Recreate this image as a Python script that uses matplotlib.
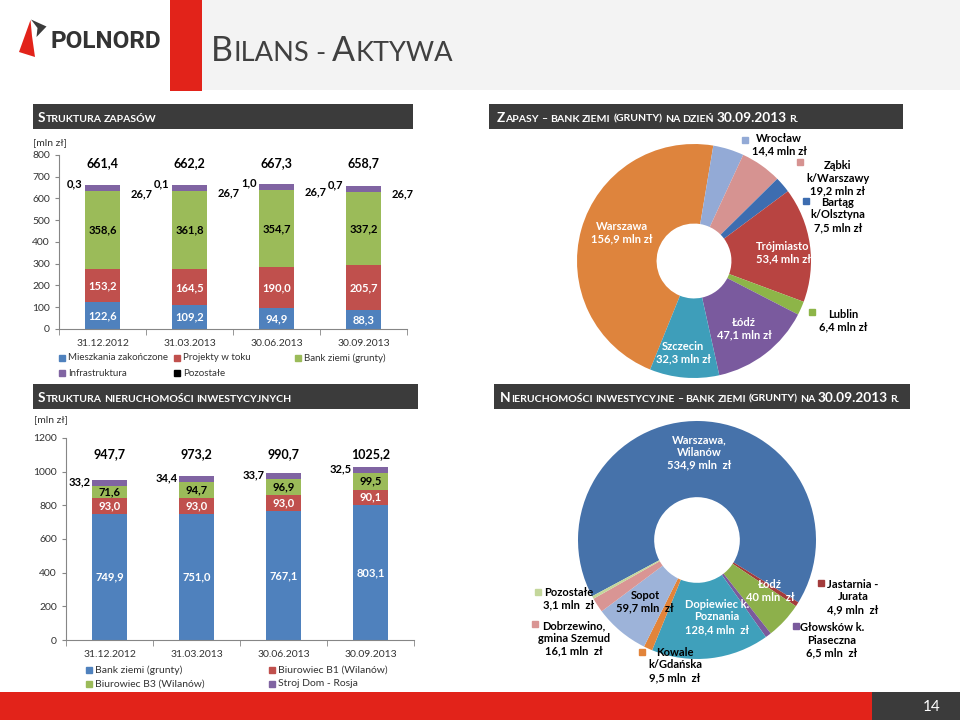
"""Slide 14 - Bilans - Aktywa (Polnord)."""

import numpy as np
import matplotlib
matplotlib.use("Agg")
import matplotlib.pyplot as plt
from matplotlib.patches import Rectangle, Polygon
from matplotlib.offsetbox import TextArea, HPacker, AnnotationBbox

W, H = 960, 720
FONT = "Lato"
plt.rcParams["font.family"] = [FONT, "DejaVu Sans"]

# --- data: struktura zapasow ---
dates = ["31.12.2012", "31.03.2013", "30.06.2013", "30.09.2013"]
zap_names = ["Mieszkania zakończone", "Projekty w toku", "Bank ziemi (grunty)", "Infrastruktura", "Pozostałe"]
zap_mieszkania = [122.6, 109.2, 94.9, 88.3]
zap_projekty = [153.2, 164.5, 190.0, 205.7]
zap_bank = [358.6, 361.8, 354.7, 337.2]
zap_infra = [26.7, 26.7, 26.7, 26.7]
zap_pozostale = [0.3, 0.1, 1.0, 0.7]
zap_totals = [661.4, 662.2, 667.3, 658.7]

# --- data: nieruchomosci inwestycyjne ---
inw_names = ["Bank ziemi (grunty)", "Biurowiec B1 (Wilanów)", "Biurowiec B3 (Wilanów)", "Stroj Dom - Rosja"]
inw_bank = [749.9, 751.0, 767.1, 803.1]
inw_b1 = [93.0, 93.0, 93.0, 90.1]
inw_b3 = [71.6, 94.7, 96.9, 99.5]
inw_stroj = [33.2, 34.4, 33.7, 32.5]
inw_totals = [947.7, 973.2, 990.7, 1025.2]

# --- data: bank ziemi (zapasy) 30.09.2013 ---
pz_names = ["Warszawa", "Wrocław", "Ząbki\nk/Warszawy", "Bartąg\nk/Olsztyna", "Trójmiasto", "Lublin", "Łódź", "Szczecin"]
pz_values = [156.9, 14.4, 19.2, 7.5, 53.4, 6.4, 47.1, 32.3]

# --- data: bank ziemi (nieruchomosci inwestycyjne) 30.09.2013 ---
pi_names = ["Warszawa,\nWilanów", "Jastarnia -\nJurata", "Łódź", "Głowsków k.\nPiaseczna", "Dopiewiec k.\nPoznania",
            "Kowale\nk/Gdańska", "Sopot", "Dobrzewino,\ngmina Szemud", "Pozostałe"]
pi_values = [534.9, 4.9, 40, 6.5, 128.4, 9.5, 59.7, 16.1, 3.1]

BLUE, RED, GREEN, PURPLE = "#4F81BD", "#C0504D", "#9BBB59", "#8064A2"
DARK = "#3B3B3B"
SLIDE_RED = "#E2231A"


def fmt(v):
    return f"{v:.1f}".replace(".", ",")


def ax_px(fig, x, y, w, h, **kw):
    return fig.add_axes([x / W, 1 - (y + h) / H, w / W, h / H], **kw)


def small_caps(ax, x, y, text, size, color="white", weight="bold", ratio=0.8, zorder=5):
    words = []
    for word in text.split(" "):
        runs = []
        for j, ch in enumerate(word):
            # capitals, digits and dots inside numbers stay full size
            big = ch.isupper() or ch.isdigit() or (ch == "." and j > 0 and word[j - 1].isdigit()
                                                    and j + 1 < len(word) and word[j + 1].isdigit())
            if runs and runs[-1][0] == big:
                runs[-1][1] += ch
            else:
                runs.append([big, ch])
        boxes = [TextArea(s.upper(), textprops=dict(size=size if big else size * ratio, color=color,
                                                    weight=weight, family=FONT)) for big, s in runs]
        words.append(HPacker(children=boxes, align="baseline", pad=0, sep=0))
    pack = HPacker(children=words, align="baseline", pad=0, sep=size * ratio * 0.24)
    ab = AnnotationBbox(pack, (x, y), xycoords="data", box_alignment=(0, 0.5), frameon=False, pad=0)
    ab.set_zorder(zorder)
    ax.add_artist(ab)


fig = plt.figure(figsize=(W / 100, H / 100), dpi=100)

# background / decoration layer
bg = fig.add_axes([0, 0, 1, 1], zorder=-1)
bg.set_xlim(0, W)
bg.set_ylim(H, 0)
bg.axis("off")
bg.add_patch(Rectangle((202, 0), 758, 90, color="#F3F3F3", lw=0))
bg.add_patch(Rectangle((170, 0), 32, 91, color=SLIDE_RED, lw=0))
bg.add_patch(Polygon([(30.5, 20), (19, 52), (35, 57), (32, 36)], closed=True, color=SLIDE_RED, lw=0))
bg.add_patch(Polygon([(31, 19.5), (46.5, 26.5), (36.5, 37), (37.5, 28)], closed=True, color=DARK, lw=0))
bg.text(50, 42, "POLNORD", fontsize=17.5, weight="bold", color="#333333", va="center", ha="left",
        family="Roboto")
small_caps(bg, 211, 51, "Bilans - Aktywa", 24.5, color="#404040", weight="normal", ratio=0.8)

# header bars
headers = [
    (33, 104, 380, 25, 38, "Struktura zapasów"),
    (489, 104, 414, 25, 497, "Zapasy – bank ziemi (grunty) na dzień 30.09.2013 r."),
    (33, 384, 385, 25, 38, "Struktura nieruchomości inwestycyjnych"),
    (494, 384, 416, 25, 500, "Nieruchomości inwestycyjne – bank ziemi (grunty) na 30.09.2013 r."),
]
for x, y, w, h, tx, title in headers:
    bg.add_patch(Rectangle((x, y), w, h, color=DARK, lw=0))
    small_caps(bg, tx, y + h / 2 + 1, title, 9.8, ratio=0.77)

# bottom strip
bg.add_patch(Rectangle((0, 692), 872, 28, color=SLIDE_RED, lw=0))
bg.add_patch(Rectangle((872, 692), 88, 28, color=DARK, lw=0))
bg.text(932, 707, "14", color="white", fontsize=11, ha="center", va="center")

bg.text(33, 143, "[mln zł]", fontsize=7.5, color="#333333", va="center")
bg.text(34, 420, "[mln zł]", fontsize=7.5, color="#333333", va="center")


def style_bar_axes(ax, ymax, step):
    ax.set_facecolor("none")
    x = np.arange(len(dates))
    ax.set_xlim(-0.5, len(dates) - 0.5)
    ax.set_ylim(0, ymax)
    ax.set_yticks(np.arange(0, ymax + 1, step))
    ax.set_xticks(x)
    ax.set_xticklabels(dates)
    ax.set_xticks(np.arange(-0.5, len(dates)), minor=True)
    for s in ["top", "right"]:
        ax.spines[s].set_visible(False)
    for s in ["left", "bottom"]:
        ax.spines[s].set_color("#868686")
    ax.tick_params(axis="x", which="major", length=0, labelsize=7.5, labelcolor="#333333", pad=7)
    ax.tick_params(axis="x", which="minor", length=4, color="#868686")
    ax.tick_params(axis="y", length=3, color="#868686", labelsize=7.5, labelcolor="#333333")


# --- chart 1: struktura zapasow ---
ax1 = ax_px(fig, 59, 155, 348, 174)
style_bar_axes(ax1, 800, 100)
x = np.arange(len(dates))
series1 = [zap_mieszkania, zap_projekty, zap_bank, zap_infra, zap_pozostale]
colors1 = [BLUE, RED, GREEN, PURPLE, "black"]
bottom = np.zeros(len(dates))
for vals, c in zip(series1, colors1):
    vals = np.array(vals)
    ax1.bar(x, vals, 0.4, bottom=bottom, color=c, lw=0)
    if c in (BLUE, RED, GREEN):
        tc = "black" if c == GREEN else "white"
        for i, v in enumerate(vals):
            ax1.text(i, bottom[i] + v / 2, fmt(v), ha="center", va="center", color=tc,
                     fontsize=8, weight="bold")
    bottom = bottom + vals
for i in range(len(dates)):
    ax1.text(i, 763, fmt(zap_totals[i]), ha="center", va="center", fontsize=9, weight="bold")
    ax1.text(i + 0.45, bottom[i] - 38, fmt(zap_infra[i]), ha="center", va="center", fontsize=8, weight="bold")
    ax1.text(i - 0.32, bottom[i] + 4, fmt(zap_pozostale[i]), ha="center", va="center", fontsize=8, weight="bold")

# legend 1
leg_x = [62, 177, 298]
for k, (name, c) in enumerate(zip(zap_names, colors1)):
    lx = leg_x[k % 3]
    ly = 358 + 15 * (k // 3)
    bg.plot(lx, ly, "s", ms=4.5, color=c)
    bg.text(lx + 6, ly, name, fontsize=7, va="center", color="#333333")

# --- chart 2: nieruchomosci inwestycyjne ---
ax2 = ax_px(fig, 66, 438, 348, 202)
style_bar_axes(ax2, 1200, 200)
series2 = [inw_bank, inw_b1, inw_b3, inw_stroj]
colors2 = [BLUE, RED, GREEN, PURPLE]
bottom = np.zeros(len(dates))
for vals, c in zip(series2, colors2):
    vals = np.array(vals)
    ax2.bar(x, vals, 0.4, bottom=bottom, color=c, lw=0)
    if c in (BLUE, RED, GREEN):
        tc = "black" if c == GREEN else "white"
        for i, v in enumerate(vals):
            ax2.text(i, bottom[i] + v / 2, fmt(v), ha="center", va="center", color=tc,
                     fontsize=8, weight="bold")
    bottom = bottom + vals
for i in range(len(dates)):
    ax2.text(i, 1105, fmt(inw_totals[i]), ha="center", va="center", fontsize=9, weight="bold")
    ax2.text(i - 0.34, bottom[i] - 10, fmt(inw_stroj[i]), ha="center", va="center", fontsize=8, weight="bold")

leg_x2 = [89, 272]
for k, (name, c) in enumerate(zip(inw_names, colors2)):
    lx = leg_x2[k % 2]
    ly = 670 + 14 * (k // 2)
    bg.plot(lx, ly, "s", ms=4.5, color=c)
    bg.text(lx + 6, ly, name, fontsize=7.5, va="center", color="#333333")

# --- donut 1 ---
pz_colors = ["#DE843D", "#93AAD6", "#D69391", "#3D6DB0", "#B84441", "#8DB548", "#7A5A9E", "#3E9EBA"]
R1, CX1, CY1 = 117, 694, 261
ax3 = ax_px(fig, CX1 - 130, CY1 - 130, 260, 260)
ax3.pie(pz_values, colors=pz_colors, startangle=-112, counterclock=False,
        wedgeprops=dict(width=0.68, edgecolor="none"))
ax3.set_xlim(-130 / R1, 130 / R1)
ax3.set_ylim(-130 / R1, 130 / R1)
ax3.set_aspect("equal")
ax3.axis("off")

# --- donut 2 ---
pi_colors = ["#4672AA", "#A33B3B", "#8DB04B", "#7A5A9C", "#3FA0BB", "#E2843A", "#9DB3D9", "#D99594", "#C4D79B"]
R2, CX2, CY2 = 119, 697, 540
ax4 = ax_px(fig, CX2 - 130, CY2 - 130, 260, 260)
ax4.pie(pi_values, colors=pi_colors, startangle=-151.8, counterclock=False,
        wedgeprops=dict(width=0.64, edgecolor="none"))
ax4.set_xlim(-130 / R2, 130 / R2)
ax4.set_ylim(-130 / R2, 130 / R2)
ax4.set_aspect("equal")
ax4.axis("off")

# donut labels (overlay)
top = fig.add_axes([0, 0, 1, 1], zorder=10)
top.set_xlim(0, W)
top.set_ylim(H, 0)
top.axis("off")


def pie_label(name, value, xy, color, unit="mln zł", square=None):
    num = fmt(value) if value % 1 else str(int(value))
    top.text(xy[0], xy[1], f"{name}\n{num} {unit}", ha="center", va="center",
             fontsize=8, weight="bold", color=color, linespacing=1.15)
    if square is not None:
        top.plot(square[0], square[1], "s", ms=4.5, color=square[2])


pz_pos = {
    "Warszawa": ((622, 233), "white", None),
    "Wrocław": ((779, 145), "black", (745, 140)),
    "Ząbki\nk/Warszawy": ((838, 178), "black", (800, 162)),
    "Bartąg\nk/Olsztyna": ((838, 215), "black", (806, 201)),
    "Trójmiasto": ((783, 253), "white", None),
    "Lublin": ((843, 321), "black", (812, 312)),
    "Łódź": ((744, 329), "white", None),
    "Szczecin": ((683, 353), "white", None),
}
for name, v, c in zip(pz_names, pz_values, pz_colors):
    pos, tc, sq = pz_pos[name]
    pie_label(name, v, pos, tc, square=None if sq is None else (sq[0], sq[1], c))

pi_pos = {
    "Warszawa,\nWilanów": ((699, 452), "white", None),
    "Jastarnia -\nJurata": ((853, 597), "black", (821, 583)),
    "Łódź": ((770, 591), "white", None),
    "Głowsków k.\nPiaseczna": ((832, 640), "black", (796, 626)),
    "Dopiewiec k.\nPoznania": ((717, 617), "white", None),
    "Kowale\nk/Gdańska": ((675, 665), "black", (642, 652)),
    "Sopot": ((645, 602), "black", None),
    "Dobrzewino,\ngmina Szemud": ((574, 638), "black", (535, 624)),
    "Pozostałe": ((569, 599), "black", (538, 592)),
}
for name, v, c in zip(pi_names, pi_values, pi_colors):
    pos, tc, sq = pi_pos[name]
    pie_label(name, v, pos, tc, unit="mln  zł", square=None if sq is None else (sq[0], sq[1], c))

fig.savefig("out.png", dpi=100)
